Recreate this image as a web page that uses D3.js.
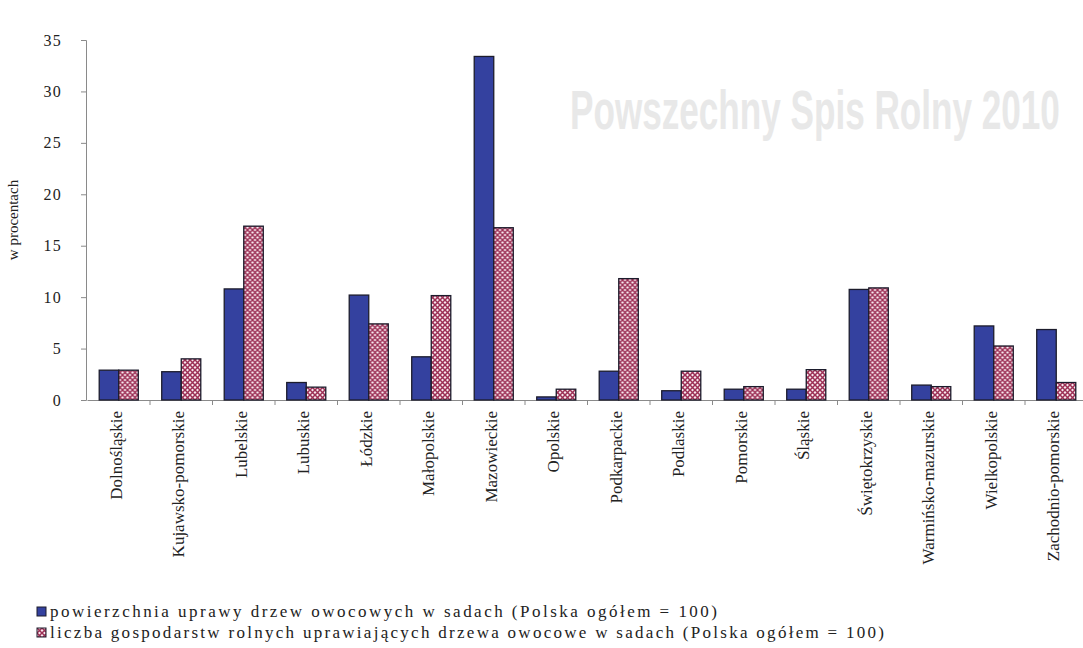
<!DOCTYPE html>
<html>
<head>
<meta charset="utf-8">
<script src="https://cdn.jsdelivr.net/npm/d3@7"></script>
<style>
  html, body { margin: 0; padding: 0; background: #fff; }
  svg { display: block; }
</style>
</head>
<body>
<svg id="chart" width="1083" height="648"></svg>
<script>
// Województwa (voivodeships)
const categories = [
  "Dolnośląskie", "Kujawsko-pomorskie", "Lubelskie", "Lubuskie", "Łódzkie",
  "Małopolskie", "Mazowieckie", "Opolskie", "Podkarpackie", "Podlaskie",
  "Pomorskie", "Śląskie", "Świętokrzyskie", "Warmińsko-mazurskie",
  "Wielkopolskie", "Zachodnio-pomorskie"
];

// Area of fruit tree orchards, % of Poland total
const areaShare = [2.9, 2.75, 10.8, 1.7, 10.2, 4.2, 33.4, 0.3, 2.8, 0.9, 1.05, 1.05, 10.75, 1.45, 7.2, 6.85];
// Number of farms growing fruit trees in orchards, % of Poland total
const farmShare = [2.9, 4.0, 16.9, 1.25, 7.4, 10.15, 16.75, 1.05, 11.8, 2.8, 1.3, 2.95, 10.9, 1.3, 5.25, 1.7];

const seriesNames = [
  "powierzchnia uprawy drzew owocowych w sadach (Polska ogółem = 100)",
  "liczba gospodarstw rolnych uprawiających drzewa owocowe w sadach (Polska ogółem = 100)"
];

const yTicks = [0, 5, 10, 15, 20, 25, 30, 35];
const yTitle = "w procentach";
const backdropText = "Powszechny Spis Rolny 2010";

const svg = d3.select("#chart");
const serif = "'Liberation Serif', 'Times New Roman', serif";

// Pattern for the second series: white checks on a crimson lattice
const defs = svg.append("defs");
const pat = defs.append("pattern")
  .attr("id", "check")
  .attr("patternUnits", "userSpaceOnUse")
  .attr("width", 5).attr("height", 5);
pat.append("rect").attr("width", 5).attr("height", 5).attr("fill", "#f8e8ee");
pat.append("path")
  .attr("d", "M0,0 L5,5 M5,0 L0,5")
  .attr("stroke", "#9c2f55").attr("stroke-width", 1.5);

const blue = "#34419f";

// Faint backdrop lettering, squeezed horizontally to fit the space right of the tallest bar
const backdrop = svg.append("text")
  .attr("font-family", "'Liberation Sans', Arial, sans-serif")
  .attr("font-weight", "bold")
  .attr("font-size", 56)
  .attr("fill", "#e8e8e8")
  .text(backdropText);
const naturalWidth = backdrop.node().getComputedTextLength();
backdrop.attr("transform", `translate(570,129) scale(${490 / naturalWidth},1)`);

// Scales
const x0 = d3.scaleBand().domain(categories).range([87.5, 1087.5]).padding(0);
const x1 = d3.scaleBand().domain([0, 1]).range([0, x0.bandwidth()]).paddingInner(0).paddingOuter(0.6);
const y = d3.scaleLinear().domain([0, 35]).range([400, 40]);

// Y axis
const yAxis = svg.append("g")
  .attr("transform", "translate(86,0)")
  .call(d3.axisLeft(y).tickValues(yTicks).tickSize(5).tickPadding(19));
yAxis.select(".domain").attr("stroke", "#8a8a8a");
yAxis.selectAll(".tick line").attr("stroke", "#8a8a8a");
yAxis.selectAll(".tick text")
  .attr("font-family", serif)
  .attr("font-size", 16)
  .attr("letter-spacing", 1.2)
  .attr("fill", "#222");

svg.append("text")
  .attr("transform", "translate(18,220) rotate(-90)")
  .attr("text-anchor", "middle")
  .attr("font-family", serif)
  .attr("font-size", 15)
  .attr("fill", "#222")
  .text(yTitle);

// X axis
const xAxis = svg.append("g")
  .attr("transform", "translate(0,400)")
  .call(d3.axisBottom(x0).tickSize(0).tickFormat(""));
xAxis.select(".domain").attr("stroke", "#8a8a8a").attr("d", "M87.5,0.5H1087.5");
xAxis.selectAll(".tick").remove();

// Tick marks between categories
const boundaries = categories.slice(1).map(c => x0(c));
svg.append("g").selectAll("line")
  .data(boundaries)
  .join("line")
  .attr("x1", d => d).attr("x2", d => d)
  .attr("y1", 400).attr("y2", 405)
  .attr("stroke", "#8a8a8a");

// Bars
const groups = svg.append("g").selectAll("g")
  .data(categories)
  .join("g")
  .attr("transform", d => `translate(${x0(d)},0)`);

groups.append("rect")
  .attr("x", x1(0))
  .attr("width", x1.bandwidth())
  .attr("y", (d, i) => y(areaShare[i]))
  .attr("height", (d, i) => y(0) - y(areaShare[i]))
  .attr("fill", blue)
  .attr("stroke", "#1c1c2c").attr("stroke-width", 1.3);

groups.append("rect")
  .attr("x", x1(1))
  .attr("width", x1.bandwidth())
  .attr("y", (d, i) => y(farmShare[i]))
  .attr("height", (d, i) => y(0) - y(farmShare[i]))
  .attr("fill", "url(#check)")
  .attr("stroke", "#1c1c2c").attr("stroke-width", 1.3);

// Category labels
groups.append("text")
  .attr("transform", d => `translate(${x0.bandwidth() / 2 - 3},411) rotate(-90)`)
  .attr("text-anchor", "end")
  .attr("dy", "0.35em")
  .attr("font-family", serif)
  .attr("font-size", 17)
  .attr("fill", "#222")
  .text(d => d);

// Legend
const legendWidths = [667, 834];
const legend = svg.append("g").selectAll("g")
  .data(seriesNames)
  .join("g")
  .attr("transform", (d, i) => `translate(37,${612 + i * 21})`);

legend.append("rect")
  .attr("x", 0).attr("y", -5)
  .attr("width", 9).attr("height", 9)
  .attr("fill", (d, i) => i === 0 ? blue : "url(#check)")
  .attr("stroke", "#1c1c2c").attr("stroke-width", 1);

legend.append("text")
  .attr("x", 13).attr("y", 5)
  .attr("font-family", serif)
  .attr("font-size", 17)
  .attr("fill", "#222")
  .attr("textLength", (d, i) => legendWidths[i])
  .attr("lengthAdjust", "spacing")
  .text(d => d);
</script>
</body>
</html>
